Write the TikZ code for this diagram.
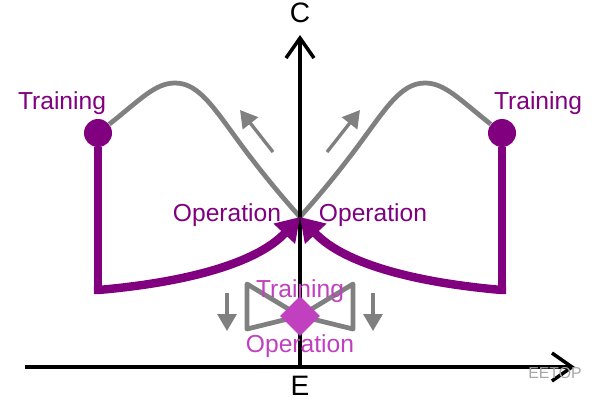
\documentclass[tikz,border=0pt]{standalone}
\usepackage{fontspec}
\setmainfont{Liberation Sans}
\usetikzlibrary{arrows.meta,shapes.geometric}
\definecolor{trainpurple}{HTML}{800080}
\definecolor{lightpurple}{HTML}{C040C0}
\definecolor{curvegray}{HTML}{808080}
\begin{document}
\begin{tikzpicture}[x=0.2mm,y=-0.2mm,line join=round]
    \tikzstyle{axis}=[line width=2pt,-{Straight Barb[length=4mm,width=5.6mm,line width=2pt]}]
    \tikzstyle{tag}=[font=\fontsize{14}{16}\selectfont,inner sep=1pt]
    \tikzstyle{dot}=[circle,fill=trainpurple,minimum size=5.6mm,inner sep=0]
    \tikzstyle{path}=[curvegray,line width=2.7pt]
    \tikzstyle{hint}=[curvegray,line width=1.9pt,-{Triangle[length=3.4mm,width=3.8mm]}]
    \tikzstyle{jump}=[trainpurple,line width=4.8pt,-{Triangle[length=4.6mm,width=5.6mm]}]
    \useasboundingbox (0,0) rectangle (600,400);

    \node[dot](tl) at (98,133){};
    \node[dot](tr) at (502,133){};
    \coordinate (x) at (300,217);
    \coordinate (bl) at (98,290);
    \coordinate (br) at (502,290);

    % gray curves
    \draw[path] (tl) .. controls (140,100) and (155,83) .. (175,83)
        .. controls (200,83) and (215,110) .. (245,150)
        .. controls (270,183) and (285,200) .. (x);
    \draw[path] (tr) .. controls (460,100) and (445,83) .. (425,83)
        .. controls (400,83) and (385,110) .. (355,150)
        .. controls (330,183) and (315,200) .. (x);
    \draw[hint] (273,152) -- (240,110);
    \draw[hint] (327,152) -- (360,110);

    % axes
    \draw[axis] (25,367) -- (575,367);
    \draw[axis] (300,368) -- (300,35);
    \node[font=\fontsize{16}{18}\selectfont](C) at (300,13){C};
    \node[font=\fontsize{16}{18}\selectfont](E) at (300,386){E};

    % purple jumps
    \draw[trainpurple,line width=4.8pt] (tl) -- (bl);
    \draw[trainpurple,line width=4.8pt] (tr) -- (br);
    \draw[jump] ([xshift=-2.4pt]bl) -- (bl) .. controls (180,283) and (255,265) .. (x);
    \draw[jump] ([xshift=2.4pt]br) -- (br) .. controls (420,283) and (345,265) .. (x);

    \node[tag,trainpurple](trainL) at (62,103){Training};
    \node[tag,trainpurple](trainR) at (538,103){Training};
    \node[tag,trainpurple](opL) at (227,215){Operation};
    \node[tag,trainpurple](opR) at (373,215){Operation};

    % small bow tie
    \coordinate (m) at (300,316);
    \draw[path] (247,284) -- (m) -- (353,284) -- (353,329) -- (m) -- (247,329) -- cycle;
    \draw[hint] (227,293) -- (227,331);
    \draw[hint] (373,293) -- (373,331);
    \node[diamond,fill=lightpurple,minimum size=8mm,inner sep=0](dm) at (m){};
    \node[tag,lightpurple](trainM) at (300,291){Training};
    \node[tag,lightpurple](opM) at (300,346){Operation};

    \node[font=\fontsize{9}{10}\selectfont,text=black!35](mark) at (555,373){EETOP};
\end{tikzpicture}
\end{document}
